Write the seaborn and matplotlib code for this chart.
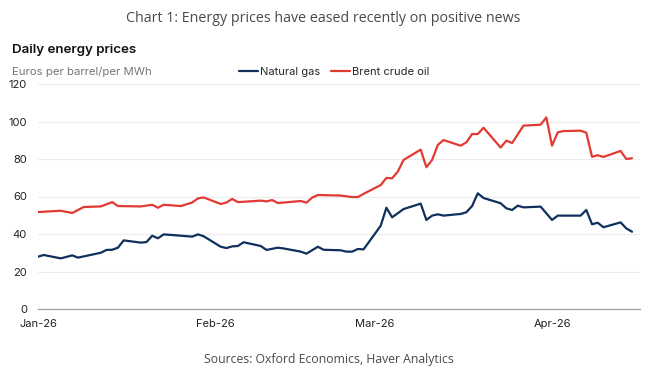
import pandas as pd
import matplotlib
matplotlib.use("Agg")
import matplotlib.pyplot as plt
import matplotlib.dates as mdates
import seaborn as sns

# Natural gas, euros per MWh (turning points)
gas_dates = ["2026-01-01", "2026-01-02", "2026-01-05", "2026-01-07", "2026-01-08",
             "2026-01-12", "2026-01-13", "2026-01-14", "2026-01-15", "2026-01-16",
             "2026-01-19", "2026-01-20", "2026-01-21", "2026-01-22", "2026-01-23",
             "2026-01-26", "2026-01-28", "2026-01-29", "2026-01-30", "2026-02-02",
             "2026-02-03", "2026-02-04", "2026-02-05", "2026-02-06", "2026-02-09",
             "2026-02-10", "2026-02-12", "2026-02-13", "2026-02-16", "2026-02-17",
             "2026-02-19", "2026-02-20", "2026-02-23", "2026-02-24", "2026-02-25",
             "2026-02-26", "2026-02-27", "2026-03-02", "2026-03-03", "2026-03-04",
             "2026-03-06", "2026-03-09", "2026-03-10", "2026-03-11", "2026-03-12",
             "2026-03-13", "2026-03-16", "2026-03-17", "2026-03-18", "2026-03-19",
             "2026-03-20", "2026-03-23", "2026-03-24", "2026-03-25", "2026-03-26",
             "2026-03-27", "2026-03-30", "2026-04-01", "2026-04-02", "2026-04-06",
             "2026-04-07", "2026-04-08", "2026-04-09", "2026-04-10", "2026-04-13",
             "2026-04-14", "2026-04-15"]
gas_values = [27.9, 28.8, 27.0, 28.6, 27.4,
              30.0, 31.5, 31.6, 32.7, 36.6,
              35.4, 35.7, 39.1, 37.7, 39.8,
              39.1, 38.6, 39.8, 38.8, 33.2,
              32.5, 33.4, 33.6, 35.6, 33.6,
              31.5, 32.7, 32.3, 30.6, 29.5,
              33.2, 31.6, 31.3, 30.6, 30.6,
              32.0, 31.8, 44.4, 54.0, 48.9,
              53.3, 56.2, 47.5, 49.8, 50.5,
              49.8, 50.7, 51.6, 54.9, 61.7,
              59.2, 56.4, 53.7, 52.8, 55.1,
              54.2, 54.6, 47.5, 49.8, 49.8,
              52.8, 45.2, 46.0, 43.6, 46.2,
              43.0, 41.2]

# Brent crude oil, euros per barrel
oil_dates = ["2026-01-01", "2026-01-05", "2026-01-07", "2026-01-09", "2026-01-12",
             "2026-01-14", "2026-01-15", "2026-01-19", "2026-01-21", "2026-01-22",
             "2026-01-23", "2026-01-26", "2026-01-28", "2026-01-29", "2026-01-30",
             "2026-02-02", "2026-02-03", "2026-02-04", "2026-02-05", "2026-02-09",
             "2026-02-10", "2026-02-11", "2026-02-12", "2026-02-16", "2026-02-17",
             "2026-02-18", "2026-02-19", "2026-02-23", "2026-02-25", "2026-02-26",
             "2026-02-27", "2026-03-02", "2026-03-03", "2026-03-04", "2026-03-05",
             "2026-03-06", "2026-03-09", "2026-03-10", "2026-03-11", "2026-03-12",
             "2026-03-13", "2026-03-16", "2026-03-17", "2026-03-18", "2026-03-19",
             "2026-03-20", "2026-03-23", "2026-03-24", "2026-03-25", "2026-03-27",
             "2026-03-30", "2026-03-31", "2026-04-01", "2026-04-02", "2026-04-03",
             "2026-04-06", "2026-04-07", "2026-04-08", "2026-04-09", "2026-04-10",
             "2026-04-13", "2026-04-14", "2026-04-15"]
oil_values = [51.7, 52.4, 51.2, 54.4, 54.7,
              57.0, 54.9, 54.7, 55.6, 54.0,
              55.6, 54.9, 56.8, 59.0, 59.5,
              56.0, 56.8, 58.7, 57.0, 57.8,
              57.4, 58.1, 56.5, 57.6, 56.7,
              59.4, 60.8, 60.5, 59.7, 59.7,
              61.4, 66.1, 69.9, 69.7, 73.3,
              79.5, 85.0, 75.6, 79.5, 87.5,
              90.1, 87.1, 88.9, 93.3, 93.3,
              96.7, 86.1, 89.8, 88.5, 97.8,
              98.3, 102.2, 87.1, 94.2, 94.9,
              95.1, 94.0, 81.2, 82.0, 81.1,
              84.3, 80.0, 80.4]

series_names = ["Natural gas", "Brent crude oil"]
series_colors = ["#0f2f5c", "#e23a32"]
y_ticks = [0, 20, 40, 60, 80, 100, 120]

df = pd.concat([
    pd.DataFrame({"date": pd.to_datetime(gas_dates), "value": gas_values, "series": series_names[0]}),
    pd.DataFrame({"date": pd.to_datetime(oil_dates), "value": oil_values, "series": series_names[1]}),
], ignore_index=True)

sns.set_style("white")
plt.rcParams["font.family"] = ["Inter", "DejaVu Sans"]

W, H = 658, 378
fig = plt.figure(figsize=(W / 100, H / 100), dpi=100)
ax = fig.add_axes([38 / W, 1 - 309 / H, (640 - 38) / W, (309 - 84) / H])

sns.lineplot(data=df, x="date", y="value", hue="series", hue_order=series_names,
             palette=series_colors, linewidth=1.6, ax=ax)

start = pd.Timestamp("2026-01-01")
ax.set_xlim(start, start + pd.Timedelta(days=105.4))
ax.set_ylim(0, 120)
ax.set_yticks(y_ticks)
ax.xaxis.set_major_locator(mdates.MonthLocator())
ax.xaxis.set_major_formatter(mdates.DateFormatter("%b-%y"))
ax.grid(axis="y", color="#ececec", linewidth=0.8)
ax.grid(axis="x", visible=False)
ax.set_axisbelow(True)
for side in ["top", "right", "left"]:
    ax.spines[side].set_visible(False)
ax.spines["bottom"].set_color("#a0a0a0")
ax.spines["bottom"].set_linewidth(0.9)
ax.tick_params(axis="both", length=0, labelsize=8, labelcolor="#222222")
ax.tick_params(axis="y", pad=8)
ax.tick_params(axis="x", pad=7)
ax.set_xlabel("")
ax.set_ylabel("")

ax.legend(loc="center left", bbox_to_anchor=(239 / W, 1 - 72 / H),
          bbox_transform=fig.transFigure, ncol=2, frameon=False,
          fontsize=8, handlelength=1.7, handletextpad=0.2, columnspacing=1.0,
          borderaxespad=0, borderpad=0)

fig.text(323 / W, 1 - 18 / H, "Chart 1: Energy prices have eased recently on positive news",
         ha="center", va="center", fontsize=10.3, color="#4a4a4a", family=["Open Sans", "DejaVu Sans"])
fig.text(12 / W, 1 - 50 / H, "Daily energy prices", ha="left", va="center",
         fontsize=9.6, fontweight="semibold", color="#111111")
fig.text(12 / W, 1 - 72 / H, "Euros per barrel/per MWh", ha="left", va="center",
         fontsize=8.2, color="#777777")
fig.text(329 / W, 1 - 360 / H, "Sources: Oxford Economics, Haver Analytics",
         ha="center", va="center", fontsize=8.8, color="#4a4a4a", family=["Open Sans", "DejaVu Sans"])

fig.savefig("out.png", dpi=100)
